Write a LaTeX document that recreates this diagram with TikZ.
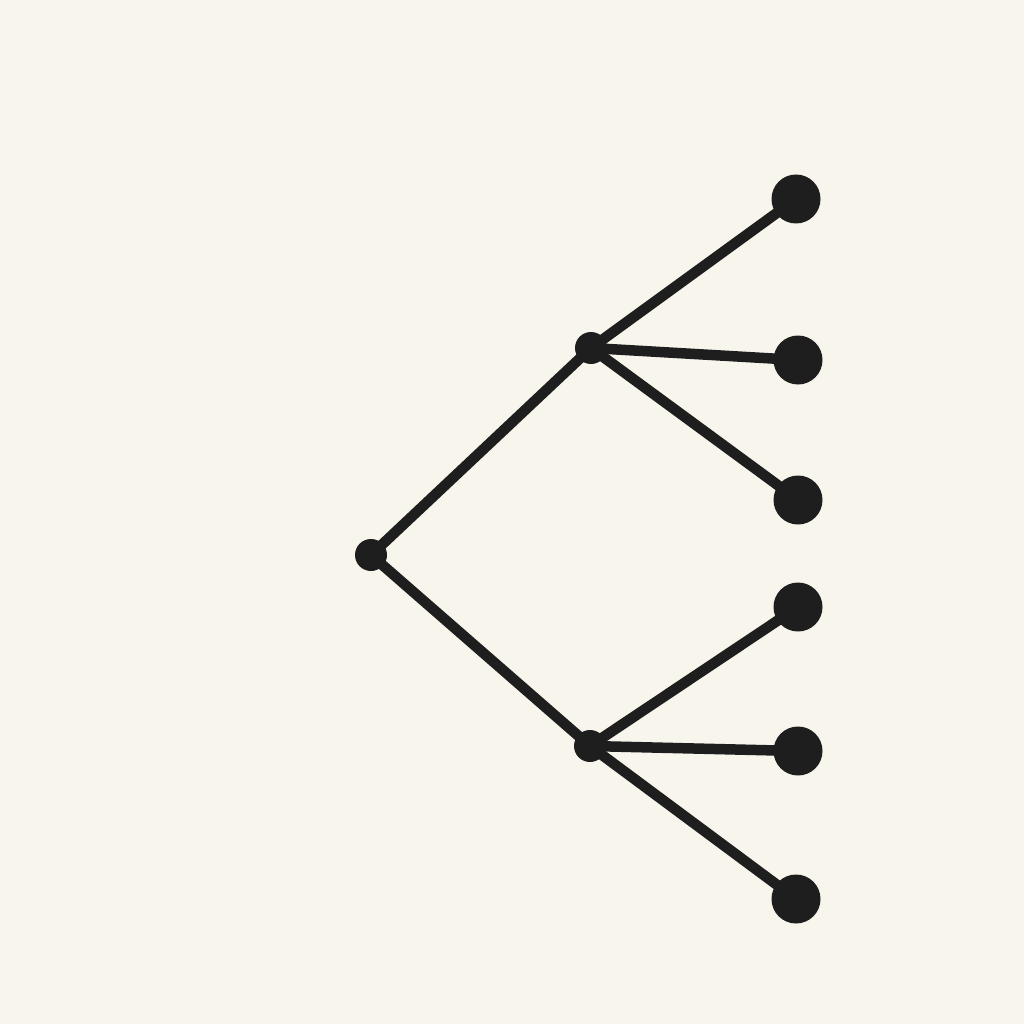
\documentclass[tikz,border=0pt]{standalone}
\begin{document}
\begin{tikzpicture}[x=1pt,y=-1pt,
  leaf/.style={circle,fill=inkc,inner sep=0pt,minimum size=49pt},
  junc/.style={circle,fill=inkc,inner sep=0pt,minimum size=32pt},
  edge/.style={draw=inkc,line width=10.5pt}]
\definecolor{inkc}{HTML}{1E1E1E}
\definecolor{paper}{HTML}{F7F5EC}
\fill[paper] (0,0) rectangle (1024,1024);
\useasboundingbox (0,0) rectangle (1024,1024);
\node[junc] (r) at (371,555) {};
\node[junc] (u) at (591,348) {};
\node[junc] (d) at (590,746) {};
\node[leaf] (l1) at (796,199) {};
\node[leaf] (l2) at (798,360) {};
\node[leaf] (l3) at (798,500) {};
\node[leaf] (l4) at (798,607) {};
\node[leaf] (l5) at (798,751) {};
\node[leaf] (l6) at (796,899) {};
\path[edge] (r.center) -- (u.center);
\path[edge] (r.center) -- (d.center);
\path[edge] (u.center) -- (l1.center);
\path[edge] (u.center) -- (l2.center);
\path[edge] (u.center) -- (l3.center);
\path[edge] (d.center) -- (l4.center);
\path[edge] (d.center) -- (l5.center);
\path[edge] (d.center) -- (l6.center);
\end{tikzpicture}
\end{document}
